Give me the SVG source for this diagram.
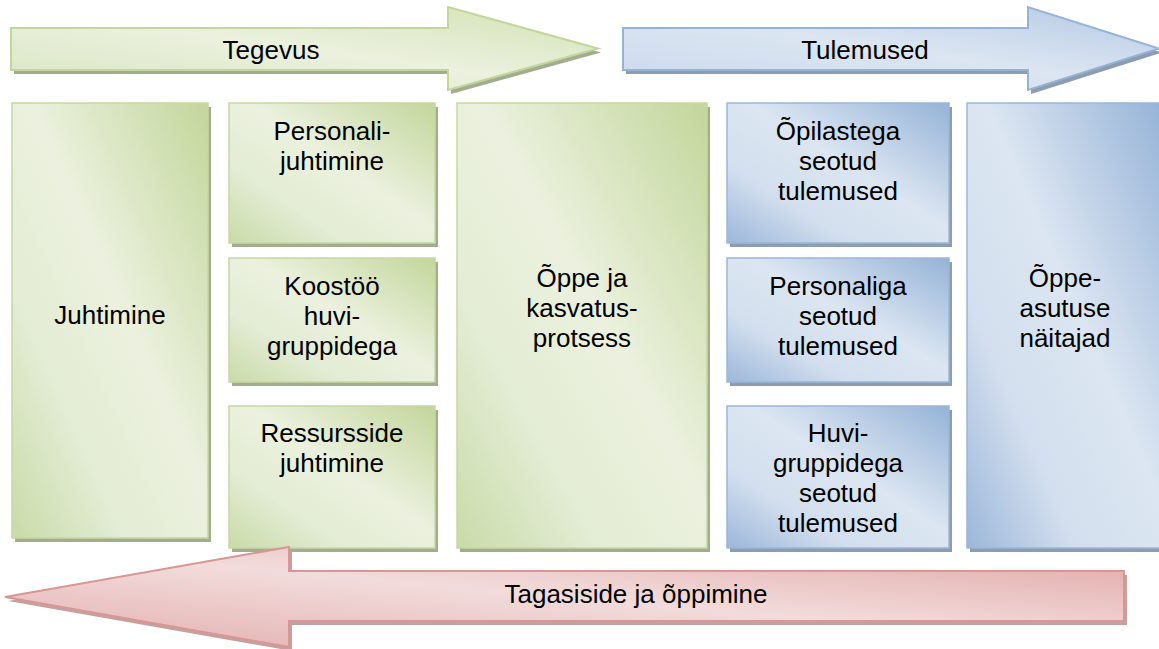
<svg xmlns="http://www.w3.org/2000/svg" width="1159" height="649" viewBox="0 0 1159 649">
<defs>
<linearGradient id="gG" x1="1" y1="0" x2="0" y2="1">
<stop offset="0" stop-color="#c3d69b"/><stop offset="0.45" stop-color="#ebf1de"/><stop offset="0.72" stop-color="#e3ecd4"/><stop offset="1" stop-color="#c9dba8"/>
</linearGradient>
<linearGradient id="gB" x1="1" y1="0" x2="0" y2="1">
<stop offset="0" stop-color="#95b3d7"/><stop offset="0.45" stop-color="#dce6f2"/><stop offset="0.72" stop-color="#d3dfee"/><stop offset="1" stop-color="#9bb7da"/>
</linearGradient>
<linearGradient id="gGa" x1="1" y1="0" x2="0" y2="1">
<stop offset="0" stop-color="#d3e2b5"/><stop offset="0.5" stop-color="#ebf1de"/><stop offset="1" stop-color="#d9e6c2"/>
</linearGradient>
<linearGradient id="gBa" x1="1" y1="0" x2="0" y2="1">
<stop offset="0" stop-color="#b4c9e4"/><stop offset="0.5" stop-color="#dce6f2"/><stop offset="1" stop-color="#c9d8ec"/>
</linearGradient>
<linearGradient id="gRa" x1="1" y1="0" x2="0" y2="1">
<stop offset="0" stop-color="#e0a6a5"/><stop offset="0.5" stop-color="#f2dcdb"/><stop offset="1" stop-color="#e3aeae"/>
</linearGradient>
<filter id="soft" x="-5%" y="-5%" width="110%" height="110%"><feGaussianBlur stdDeviation="0.7"/></filter>
</defs>
<style>
.g{fill:url(#gG);stroke:#c6d8a2;stroke-width:1.5}
.b{fill:url(#gB);stroke:#9ab6d9;stroke-width:1.5}
.ga{fill:url(#gGa);stroke:#c3d69b;stroke-width:2}
.ba{fill:url(#gBa);stroke:#95b3d7;stroke-width:2}
.ra{fill:url(#gRa);stroke:#d99694;stroke-width:2}
.sg{fill:#a2ad8f;filter:url(#soft)}
.sb{fill:#8e9caf;filter:url(#soft)}
.sr{fill:#c4a0a0;filter:url(#soft)}
text{font-family:"Liberation Sans",Arial,sans-serif;font-size:26px;fill:#000;text-anchor:middle}
</style>

<g id="arrow-tegevus">
<path class="sg" transform="translate(3,4)" d="M11,28 H448 V7 L598,48.5 L448,90 V70 H11 Z"/>
<path class="ga" d="M11,28 H448 V7 L598,48.5 L448,90 V70 H11 Z"/>
<text x="271" y="59">Tegevus</text>
</g>

<g id="arrow-tulemused">
<path class="sb" transform="translate(3,4)" d="M623,28 H1028 V7 L1159,48.5 L1028,90 V70 H623 Z"/>
<path class="ba" d="M623,28 H1028 V7 L1159,48.5 L1028,90 V70 H623 Z"/>
<text x="865" y="59">Tulemused</text>
</g>

<g id="node-juhtimine">
<rect class="sg" x="15" y="107" width="196" height="435"/>
<rect class="g" x="12" y="103" width="196" height="435"/>
<text x="110" y="324">Juhtimine</text>
</g>

<g id="node-personalijuhtimine">
<rect class="sg" x="232" y="107" width="206" height="140"/>
<rect class="g" x="229" y="103" width="206" height="140"/>
<text x="332" y="140">Personali-</text>
<text x="332" y="170">juhtimine</text>
</g>

<g id="node-koostoo">
<rect class="sg" x="232" y="262" width="206" height="124"/>
<rect class="g" x="229" y="258" width="206" height="124"/>
<text x="332" y="295">Koostöö</text>
<text x="332" y="325">huvi-</text>
<text x="332" y="355">gruppidega</text>
</g>

<g id="node-ressursside">
<rect class="sg" x="232" y="410" width="206" height="142"/>
<rect class="g" x="229" y="406" width="206" height="142"/>
<text x="332" y="442">Ressursside</text>
<text x="332" y="472">juhtimine</text>
</g>

<g id="node-oppeprotsess">
<rect class="sg" x="460" y="107" width="250" height="445"/>
<rect class="g" x="457" y="103" width="250" height="445"/>
<text x="582" y="287">Õppe ja</text>
<text x="582" y="317">kasvatus-</text>
<text x="582" y="347">protsess</text>
</g>

<g id="node-opilastega">
<rect class="sb" x="730" y="107" width="222" height="140"/>
<rect class="b" x="727" y="103" width="222" height="140"/>
<text x="838" y="140">Õpilastega</text>
<text x="838" y="170">seotud</text>
<text x="838" y="200">tulemused</text>
</g>

<g id="node-personaliga">
<rect class="sb" x="730" y="262" width="222" height="124"/>
<rect class="b" x="727" y="258" width="222" height="124"/>
<text x="838" y="295">Personaliga</text>
<text x="838" y="325">seotud</text>
<text x="838" y="355">tulemused</text>
</g>

<g id="node-huvigruppidega">
<rect class="sb" x="730" y="410" width="222" height="142"/>
<rect class="b" x="727" y="406" width="222" height="142"/>
<text x="838" y="442">Huvi-</text>
<text x="838" y="472">gruppidega</text>
<text x="838" y="502">seotud</text>
<text x="838" y="532">tulemused</text>
</g>

<g id="node-naitajad">
<rect class="sb" x="970" y="107" width="196" height="445"/>
<rect class="b" x="967" y="103" width="196" height="445"/>
<text x="1065" y="287">Õppe-</text>
<text x="1065" y="317">asutuse</text>
<text x="1065" y="347">näitajad</text>
</g>

<g id="arrow-tagasiside">
<path class="sr" transform="translate(3,4)" d="M1124,571 H289 V547 L5,597 L289,647 V621 H1124 Z"/>
<path class="ra" d="M1124,571 H289 V547 L5,597 L289,647 V621 H1124 Z"/>
<text x="636" y="603">Tagasiside ja õppimine</text>
</g>

<g id="connectors"></g>
</svg>
